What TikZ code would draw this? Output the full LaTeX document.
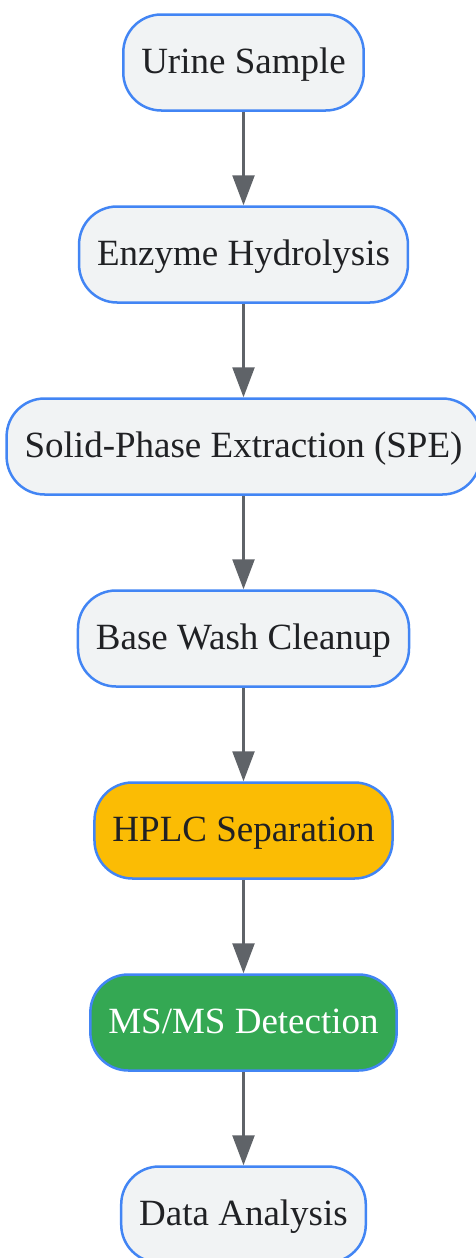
\documentclass[tikz,border=0pt]{standalone}
\usepackage{fontspec}
\setmainfont{Liberation Serif}
\usetikzlibrary{positioning,arrows.meta}
\definecolor{boxfill}{HTML}{F1F3F4}
\definecolor{boxline}{HTML}{4285F4}
\definecolor{hplcfill}{HTML}{FBBC04}
\definecolor{msfill}{HTML}{34A853}
\definecolor{ink}{HTML}{202124}
\definecolor{arrowgray}{HTML}{5F6368}
\tikzset{
  stage/.style = {shape=rectangle, rounded corners=38pt,
                  draw=boxline, line width=2.5pt, fill=boxfill,
                  text=ink, minimum height=96pt, inner xsep=18pt,
                  text height=22pt, text depth=0pt,
                  font=\fontsize{37}{44}\selectfont},
  hplc/.style  = {stage, fill=hplcfill},
  msms/.style  = {stage, fill=msfill, text=white},
  flow/.style  = {draw=arrowgray, line width=2.5pt,
                  -{Triangle[length=30pt,width=22pt]}}
}
\begin{document}
\begin{tikzpicture}[node distance=93.5pt]
  \useasboundingbox (0,0) rectangle (476pt,-1258pt);
  \node [stage] (urine) at (243.5pt,-62.5pt) {Urine Sample};
  \node [stage, below=of urine]  (enzyme) {Enzyme Hydrolysis};
  \node [stage, below=of enzyme] (spe)    {Solid-Phase Extraction (SPE)};
  \node [stage, below=of spe]    (wash)   {Base Wash Cleanup};
  \node [hplc,  below=of wash]   (hplc)   {HPLC Separation};
  \node [msms,  below=of hplc]   (msms)   {MS/MS Detection};
  \node [stage, below=of msms]   (data)   {Data Analysis};
  % arrows
  \draw [flow] (urine) -- (enzyme);
  \draw [flow] (enzyme) -- (spe);
  \draw [flow] (spe) -- (wash);
  \draw [flow] (wash) -- (hplc);
  \draw [flow] (hplc) -- (msms);
  \draw [flow] (msms) -- (data);
\end{tikzpicture}
\end{document}
